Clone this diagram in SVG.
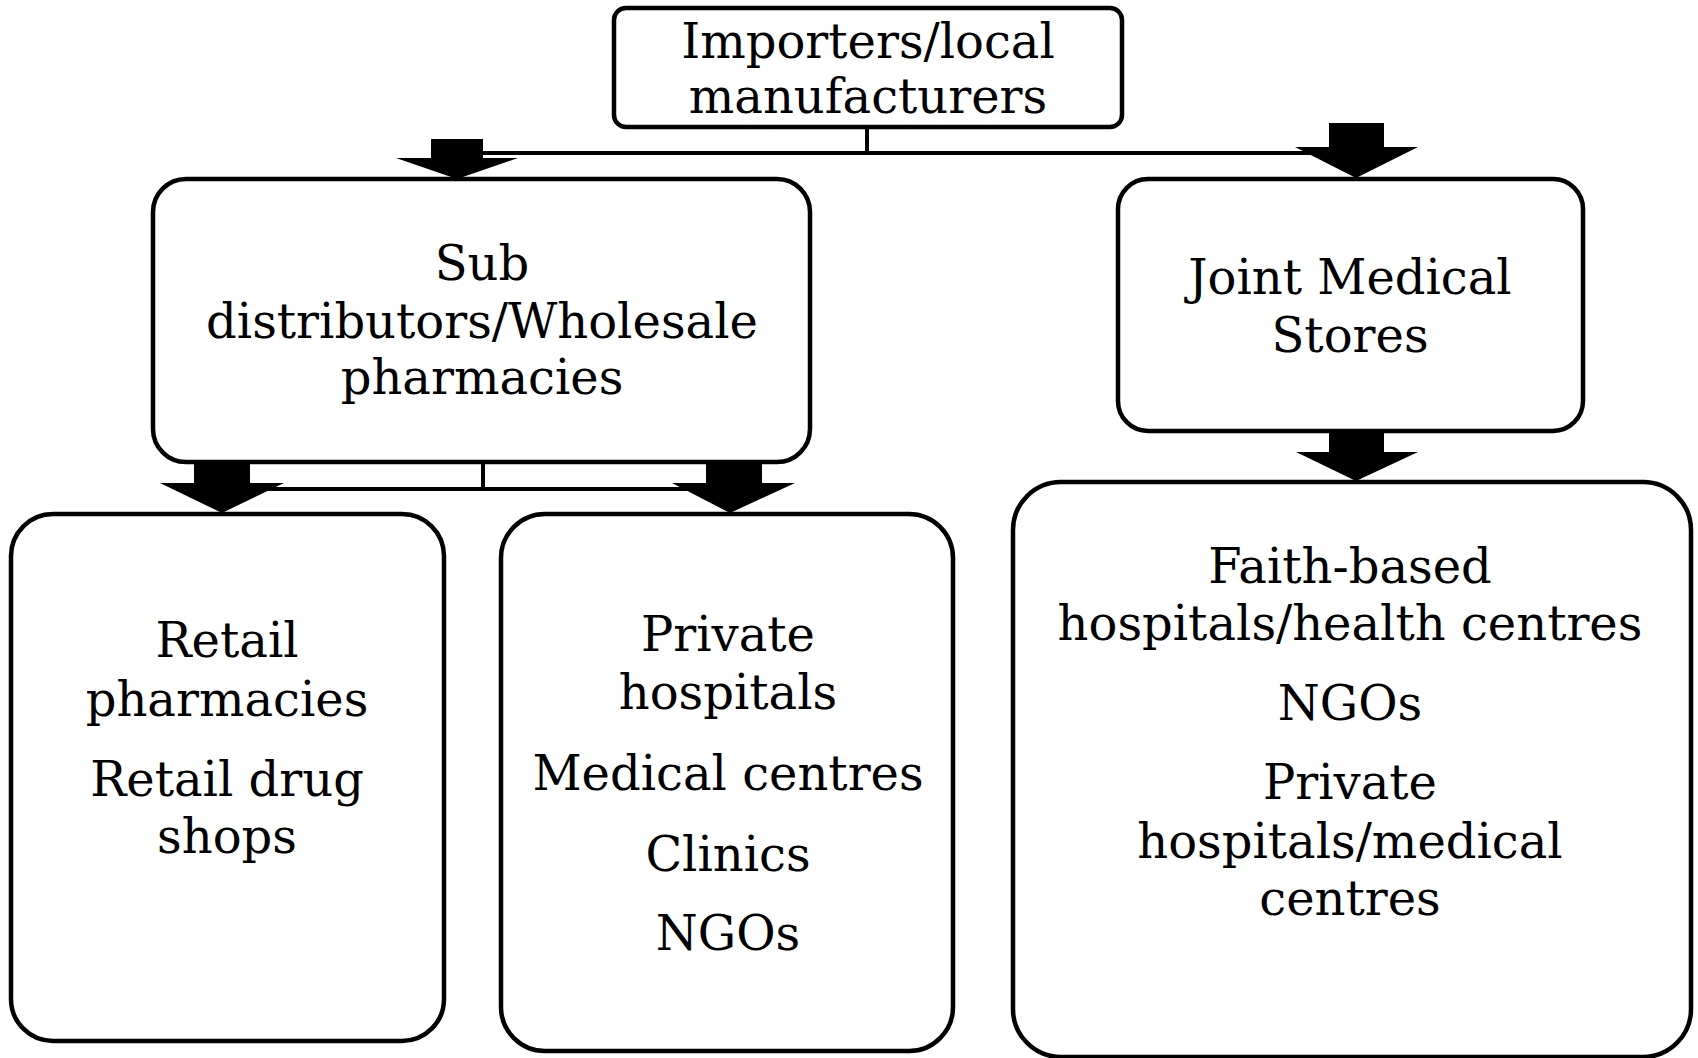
<svg xmlns="http://www.w3.org/2000/svg" width="1698" height="1058" viewBox="0 0 1698 1058">
  <style>
    .box { fill: #ffffff; stroke: #000000; stroke-width: 4.5; }
    .lbl { font-family: "DejaVu Serif", "Liberation Serif", serif; font-size: 48px; fill: #000000; text-anchor: middle; }
    .wire { stroke: #000000; stroke-width: 4; fill: none; }
    .blk { fill: #000000; stroke: none; }
  </style>
  <rect width="1698" height="1058" fill="#ffffff"/>

  <!-- connectors: elbow lines plus block arrows -->
  <g id="connectors">
    <line class="wire" x1="867" y1="127" x2="867" y2="153"/>
    <line class="wire" x1="457" y1="153" x2="1356" y2="153"/>
    <line class="wire" x1="483" y1="462" x2="483" y2="489"/>
    <line class="wire" x1="222" y1="489" x2="730" y2="489"/>
    <polygon class="blk" points="431,139 483,139 483,158 518,158 457,179 396,158 431,158"/>
    <polygon class="blk" points="1329,123 1384,123 1384,147 1418,147 1356,178 1295,147 1329,147"/>
    <polygon class="blk" points="1329,429 1384,429 1384,452 1418,452 1356,481 1296,452 1329,452"/>
    <polygon class="blk" points="194,460 250,460 250,483 284,483 222,513 160,483 194,483"/>
    <polygon class="blk" points="706,460 762,460 762,483 795,483 730,513 672,483 706,483"/>
  </g>

  <g id="importers">
    <rect class="box" x="614" y="8" width="508" height="119" rx="12"/>
    <text class="lbl" x="868" y="58">Importers/local</text>
    <text class="lbl" x="868" y="113">manufacturers</text>
  </g>

  <g id="sub-distributors">
    <rect class="box" x="153" y="179" width="657" height="283" rx="33"/>
    <text class="lbl" x="482" y="280">Sub</text>
    <text class="lbl" x="482" y="338">distributors/Wholesale</text>
    <text class="lbl" x="482" y="394">pharmacies</text>
  </g>

  <g id="joint-medical-stores">
    <rect class="box" x="1118" y="179" width="465" height="252" rx="30"/>
    <text class="lbl" x="1350" y="294">Joint Medical</text>
    <text class="lbl" x="1350" y="352">Stores</text>
  </g>

  <g id="retail">
    <rect class="box" x="11" y="514" width="433" height="527" rx="42"/>
    <text class="lbl" x="227" y="657">Retail</text>
    <text class="lbl" x="227" y="716">pharmacies</text>
    <text class="lbl" x="227" y="796">Retail drug</text>
    <text class="lbl" x="227" y="853">shops</text>
  </g>

  <g id="private-sector">
    <rect class="box" x="501" y="514" width="452" height="537" rx="44"/>
    <text class="lbl" x="728" y="651">Private</text>
    <text class="lbl" x="728" y="709">hospitals</text>
    <text class="lbl" x="728" y="790">Medical centres</text>
    <text class="lbl" x="728" y="871">Clinics</text>
    <text class="lbl" x="728" y="950">NGOs</text>
  </g>

  <g id="faith-based">
    <rect class="box" x="1013" y="482" width="678" height="575" rx="48"/>
    <text class="lbl" x="1350" y="583">Faith-based</text>
    <text class="lbl" x="1350" y="640">hospitals/health centres</text>
    <text class="lbl" x="1350" y="720">NGOs</text>
    <text class="lbl" x="1350" y="799">Private</text>
    <text class="lbl" x="1350" y="858">hospitals/medical</text>
    <text class="lbl" x="1350" y="915">centres</text>
  </g>
</svg>
